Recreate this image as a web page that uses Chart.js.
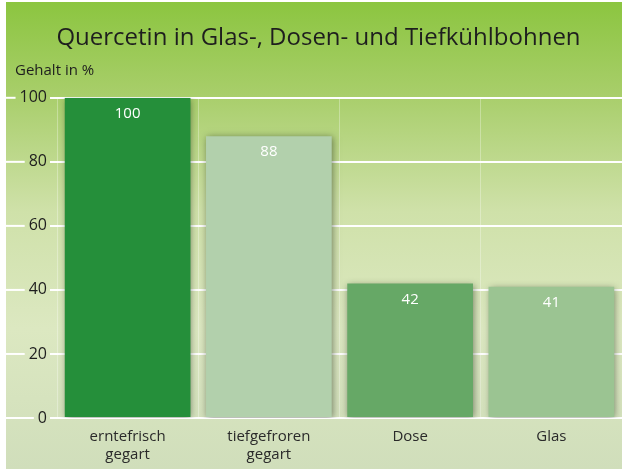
<!DOCTYPE html>
<html>
<head>
<meta charset="utf-8">
<script src="https://cdn.jsdelivr.net/npm/chart.js@4/dist/chart.umd.min.js"></script>
<style>
  html, body { margin: 0; padding: 0; background: #fff; }
  #wrap { width: 622px; height: 469px; }
</style>
</head>
<body>
<div id="wrap"><canvas id="chartQ"></canvas></div>
<script>
// ── DATA ───────────────────────────────────────────────────────────────────────
const categories = [['erntefrisch', 'gegart'], ['tiefgefroren', 'gegart'], 'Dose', 'Glas'];
const values     = [100, 88, 42, 41];
const barColors  = ['#258f3a', '#b2d0ac', '#66a866', '#9bc492'];
const yTicks     = [0, 20, 40, 60, 80, 100];

const TITLE    = 'Quercetin in Glas-, Dosen- und Tiefkühlbohnen';
const SUBTITLE = 'Gehalt in %';
const FONT     = '"Open Sans", sans-serif';

// ── PLUGINS ────────────────────────────────────────────────────────────────────
// Background: white border, green gradient fading to pale
const bgPlugin = {
  id: 'bg',
  beforeDraw(chart) {
    const { ctx, width, height } = chart;
    ctx.save();
    ctx.fillStyle = '#ffffff';
    ctx.fillRect(0, 0, width, height);
    const g = ctx.createLinearGradient(0, 0, 0, height);
    g.addColorStop(0.00, '#8bc53f');
    g.addColorStop(0.20, '#a8ce6a');
    g.addColorStop(0.45, '#cfe1a9');
    g.addColorStop(0.70, '#dce8c1');
    g.addColorStop(1.00, '#d0debb');
    ctx.fillStyle = g;
    ctx.fillRect(6, 2, width - 6, height - 2);
    ctx.restore();
  }
};

// Shadow around bars
const shadowPlugin = {
  id: 'barShadow',
  beforeDatasetDraw(chart) {
    const ctx = chart.ctx;
    ctx.save();
    ctx.shadowColor = 'rgba(40,50,30,0.55)';
    ctx.shadowBlur = 7;
    ctx.shadowOffsetX = 1;
    ctx.shadowOffsetY = 1;
  },
  afterDatasetDraw(chart) { chart.ctx.restore(); }
};

// Value labels inside the bars + left part of the gridlines in front of the tick labels
const labelPlugin = {
  id: 'labels',
  afterDatasetsDraw(chart) {
    const { ctx } = chart;
    const meta = chart.getDatasetMeta(0);
    ctx.save();
    ctx.fillStyle = '#ffffff';
    ctx.font = '15px ' + FONT;
    ctx.textAlign = 'center';
    ctx.textBaseline = 'middle';
    meta.data.forEach((bar, i) => ctx.fillText(values[i], bar.x, bar.y + 16));

    const y = chart.scales.y;
    ctx.font = '16px ' + FONT;
    ctx.strokeStyle = '#ffffff';
    ctx.lineWidth = 2;
    y.ticks.forEach(t => {
      const py = y.getPixelForValue(t.value);
      const w = ctx.measureText(String(t.value)).width;
      const xr = y.right - 10 - w - 4;
      ctx.beginPath();
      ctx.moveTo(6, py);
      ctx.lineTo(xr, py);
      ctx.stroke();
    });
    ctx.restore();
  }
};

// ── CHART ──────────────────────────────────────────────────────────────────────
new Chart(document.getElementById('chartQ'), {
  type: 'bar',
  data: {
    labels: categories,
    datasets: [{ data: values, backgroundColor: barColors, borderWidth: 0,
      barPercentage: 0.89, categoryPercentage: 1 }]
  },
  options: {
    responsive: true, maintainAspectRatio: false, animation: false,
    layout: { padding: { left: 15, right: 0, top: 0, bottom: 0 } },
    plugins: {
      legend: { display: false },
      tooltip: { enabled: false },
      title: { display: true, text: TITLE, color: '#1e1e1e',
        font: { family: FONT, size: 24, weight: 'normal' }, padding: { top: 24, bottom: 9 } },
      subtitle: { display: true, text: SUBTITLE, align: 'start', color: '#1e1e1e',
        font: { family: FONT, size: 15, weight: 'normal' }, padding: { top: 0, bottom: 18 } }
    },
    scales: {
      x: {
        afterFit: s => { s.height = 51; },
        grid: { display: true, offset: true, color: 'rgba(255,255,255,0.3)', lineWidth: 1, drawTicks: false },
        border: { display: true, color: 'rgba(255,255,255,0.5)' },
        ticks: { color: '#2a2a2a', font: { family: FONT, size: 15 }, padding: 10, maxRotation: 0, autoSkip: false }
      },
      y: {
        min: 0, max: 100,
        afterFit: s => { s.width = 42; },
        afterBuildTicks: s => { s.ticks = yTicks.map(v => ({ value: v })); },
        grid: { color: '#ffffff', lineWidth: 2, tickLength: 7, drawTicks: true },
        border: { display: false },
        ticks: { color: '#1e1e1e', font: { family: FONT, size: 16 }, padding: 3 }
      }
    }
  },
  plugins: [bgPlugin, shadowPlugin, labelPlugin]
});
</script>
</body>
</html>
